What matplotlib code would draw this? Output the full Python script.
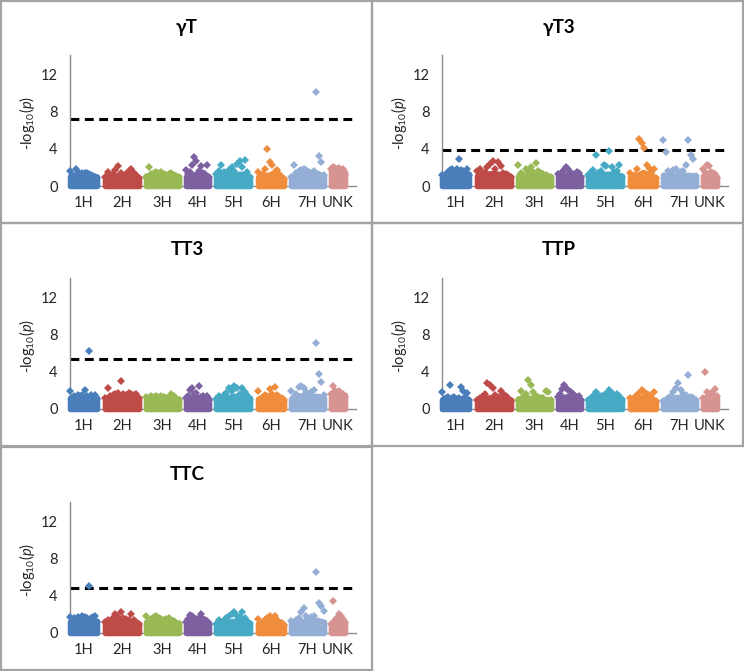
import numpy as np
import matplotlib
matplotlib.use("Agg")
import matplotlib.pyplot as plt
from matplotlib.lines import Line2D

plt.rcParams['font.family'] = ['Lato', 'DejaVu Sans']
plt.rcParams['mathtext.fontset'] = 'custom'
plt.rcParams['mathtext.rm'] = 'Lato'
plt.rcParams['mathtext.it'] = 'Lato:italic'

# ---------------- data ----------------
CHROMS = ['1H', '2H', '3H', '4H', '5H', '6H', '7H', 'UNK']
CHR_START = [0, 35, 76, 116, 146, 188, 221, 261]   # marker index range per chromosome
CHR_END = [27, 69, 109, 139, 180, 214, 254, 275]
COLORS = ['#4a7ebb', '#be4b48', '#98b954', '#7d60a0',
          '#46aac5', '#ef8d3c', '#95aed6', '#d69391']

TITLES = ['γT', 'γT3', 'TT3', 'TTP', 'TTC']
THRESH = [7.15, 3.9, 5.4, None, 4.8]

# visible -log10(p) points per chromosome (evenly spaced along chromosome)
GT_PTS = [
    [1.6, 1.2, 1.1, 1.8, 1.5, 1.3, 1.4, 1.4, 1.35, 1.3, 1.2, 1.1, 1.0, 0.9],
    [1.0, 1.5, 1.2, 1.3, 1.7, 2.1, 1.4, 1.2, 1.3, 1.6, 1.8, 1.4, 1.2, 0.9],
    [1.0, 2.0, 1.3, 1.4, 1.5, 1.4, 1.5, 1.3, 1.2, 1.3, 1.4, 1.2, 1.1, 1.0],
    [1.7, 1.3, 1.5, 2.3, 3.1, 2.7, 1.6, 2.1, 1.4, 1.3, 2.2, 1.0],
    [1.3, 1.6, 2.2, 1.5, 1.4, 1.7, 2.0, 1.6, 2.4, 2.7, 2.0, 2.8, 1.5, 1.0],
    [1.5, 1.1, 1.3, 1.8, 4.0, 2.6, 2.2, 1.5, 1.7, 1.3, 1.0, 0.8],
    [1.0, 2.2, 1.4, 1.6, 1.7, 1.8, 1.7, 1.5, 1.4, 1.6, 10.1, 3.2, 2.6, 1.2],
    [1.8, 2.0, 1.9, 1.8, 1.9, 1.7, 1.8, 1.2],
]
GT_BAND = [
    [1.0, 1.1, 1.2, 1.2, 1.0], [1.0, 1.1, 1.2, 1.1, 0.9], [1.1, 1.2, 1.2, 1.2, 1.0],
    [1.0, 1.2, 1.3, 1.1, 0.9], [1.1, 1.2, 1.3, 1.3, 1.0], [0.9, 1.1, 1.3, 1.0, 0.8],
    [1.0, 1.3, 1.3, 1.3, 1.4, 1.0], [1.6, 1.7, 1.7, 1.5],
]

GT3_PTS = [
    [1.2, 0.9, 1.3, 1.5, 1.7, 1.8, 1.6, 1.8, 2.9, 1.7, 1.6, 1.5, 1.8, 1.2],
    [1.6, 1.8, 1.3, 1.5, 2.0, 2.4, 2.7, 1.8, 2.6, 2.1, 1.4, 1.3, 1.2, 1.0],
    [2.3, 1.4, 1.2, 1.8, 1.6, 2.0, 1.5, 2.5, 1.6, 1.4, 1.3, 1.2, 1.1, 1.0],
    [1.3, 1.1, 1.5, 1.7, 2.0, 1.8, 1.4, 1.3, 1.2, 1.5, 1.4, 1.0],
    [1.2, 1.5, 1.7, 3.3, 1.4, 1.6, 2.3, 2.1, 3.7, 2.0, 1.5, 1.6, 2.2, 1.0],
    [1.4, 1.0, 1.2, 1.8, 5.0, 4.6, 4.1, 2.3, 1.9, 1.4, 1.8, 0.9],
    [4.9, 3.6, 1.6, 1.4, 1.7, 1.8, 1.3, 1.5, 1.6, 2.3, 4.9, 3.3, 2.9, 1.1],
    [1.8, 1.5, 2.3, 2.1, 1.5, 1.4, 1.3, 0.9],
]
GT3_BAND = [
    [1.0, 1.2, 1.4, 1.4, 1.3], [1.1, 1.3, 1.4, 1.2, 1.0], [1.1, 1.2, 1.2, 1.1, 1.0],
    [1.0, 1.2, 1.3, 1.1, 1.0], [1.1, 1.2, 1.3, 1.3, 1.1], [1.0, 1.1, 1.5, 1.2, 0.9],
    [1.2, 1.1, 1.1, 1.2, 1.1], [1.1, 1.4, 1.3, 1.0],
]

TT3_PTS = [
    [1.9, 1.2, 1.4, 1.3, 1.5, 1.4, 1.5, 2.0, 1.4, 6.2, 1.5, 1.3, 1.5, 1.1],
    [1.2, 2.2, 1.4, 1.5, 1.6, 1.7, 3.0, 1.6, 1.5, 1.7, 1.6, 1.5, 1.6, 1.2],
    [1.3, 1.2, 1.4, 1.3, 1.4, 1.3, 1.4, 1.3, 1.2, 1.3, 1.6, 1.4, 1.1, 1.0],
    [1.2, 1.4, 2.0, 2.2, 1.6, 1.7, 2.5, 1.3, 1.4, 1.3, 1.4, 1.0],
    [1.1, 1.4, 1.2, 1.5, 1.7, 2.3, 1.9, 2.5, 2.3, 1.6, 2.2, 1.8, 1.5, 1.0],
    [1.9, 1.1, 1.3, 1.5, 1.4, 2.1, 1.6, 2.4, 1.5, 1.3, 1.2, 1.0],
    [1.9, 1.3, 1.6, 2.4, 2.5, 2.2, 1.8, 1.6, 1.8, 2.0, 7.1, 3.8, 2.9, 1.5],
    [1.6, 2.5, 1.9, 1.8, 1.9, 1.7, 1.6, 1.3],
]
TT3_BAND = [
    [1.2, 1.3, 1.3, 1.3, 1.2], [1.2, 1.4, 1.4, 1.4, 1.2], [1.1, 1.2, 1.2, 1.2, 1.1],
    [1.0, 1.2, 1.3, 1.2, 1.1], [1.0, 1.2, 1.4, 1.4, 1.2], [1.1, 1.2, 1.3, 1.2, 1.0],
    [1.1, 1.4, 1.5, 1.4, 1.4, 1.2], [1.4, 1.7, 1.7, 1.5],
]

TTP_PTS = [
    [1.8, 1.1, 1.2, 1.3, 2.6, 1.2, 1.3, 1.1, 1.2, 2.4, 1.9, 1.3, 1.7, 1.0],
    [1.0, 1.2, 1.3, 1.6, 2.8, 2.6, 2.3, 1.5, 1.3, 1.9, 1.6, 1.4, 1.2, 0.9],
    [1.0, 1.9, 1.3, 1.6, 3.1, 2.6, 1.8, 1.4, 1.3, 1.2, 1.2, 1.9, 1.8, 1.0],
    [1.3, 1.6, 2.1, 2.6, 2.3, 2.0, 1.8, 1.6, 1.4, 1.3, 1.4, 1.0],
    [1.0, 1.2, 1.4, 1.8, 1.5, 1.4, 1.5, 1.6, 2.0, 1.7, 1.5, 1.6, 1.4, 1.0],
    [1.2, 1.1, 1.3, 1.5, 1.7, 2.0, 1.8, 1.6, 1.5, 1.3, 1.8, 0.9],
    [0.9, 1.0, 1.2, 1.4, 1.8, 2.3, 2.8, 2.0, 1.6, 1.5, 3.6, 1.3, 1.2, 1.0],
    [1.2, 4.0, 1.8, 1.5, 1.7, 1.6, 2.1, 1.4],
]
TTP_BAND = [
    [1.0, 1.1, 1.1, 1.1, 1.0], [1.0, 1.2, 1.3, 1.2, 1.0], [1.1, 1.2, 1.2, 1.1, 1.0],
    [1.1, 1.3, 1.4, 1.2, 1.0], [1.0, 1.2, 1.3, 1.3, 1.1], [1.0, 1.1, 1.3, 1.2, 0.9],
    [0.8, 1.0, 1.3, 1.2, 1.0, 0.9], [1.1, 1.4, 1.4, 1.2],
]

TTC_PTS = [
    [1.7, 1.3, 1.6, 1.5, 1.7, 1.6, 1.8, 1.7, 1.6, 5.0, 1.6, 1.7, 1.8, 1.2],
    [1.2, 1.4, 1.3, 1.6, 2.0, 1.7, 2.2, 1.6, 1.5, 1.4, 2.0, 1.4, 1.2, 1.0],
    [1.8, 1.3, 1.5, 1.7, 1.8, 1.6, 1.5, 1.4, 1.5, 1.6, 1.4, 1.3, 1.1, 1.0],
    [1.2, 1.5, 1.9, 1.8, 1.6, 1.5, 1.6, 2.0, 1.5, 1.4, 1.3, 1.0],
    [1.0, 1.4, 1.2, 1.3, 1.6, 1.8, 2.0, 2.3, 1.8, 1.7, 2.2, 1.6, 1.3, 1.0],
    [1.5, 1.0, 1.2, 1.4, 1.6, 1.8, 1.6, 1.8, 1.4, 1.2, 1.1, 0.9],
    [1.3, 1.0, 1.4, 1.6, 2.2, 2.7, 1.8, 1.5, 1.7, 1.8, 6.5, 3.2, 2.9, 2.4],
    [1.0, 3.4, 1.4, 1.6, 2.0, 1.8, 1.5, 1.2],
]
TTC_BAND = [
    [1.2, 1.4, 1.5, 1.4, 1.3], [1.1, 1.3, 1.3, 1.2, 1.0], [1.2, 1.4, 1.3, 1.2, 1.1],
    [1.1, 1.3, 1.3, 1.2, 1.1], [1.0, 1.1, 1.3, 1.3, 1.1], [1.0, 1.1, 1.2, 1.1, 0.9],
    [1.0, 1.2, 1.3, 1.3, 1.4, 1.2], [0.9, 1.2, 1.4, 1.1],
]

PANEL_PTS = [GT_PTS, GT3_PTS, TT3_PTS, TTP_PTS, TTC_PTS]
PANEL_BAND = [GT_BAND, GT3_BAND, TT3_BAND, TTP_BAND, TTC_BAND]
Y_TICKS = [0, 4, 8, 12]

# ---------------- layout ----------------
W, H = 744, 671
fig = plt.figure(figsize=(W / 100, H / 100), dpi=100)
fig.patch.set_facecolor('white')

boxes = [(0, 0), (372, 0), (0, 223), (372, 223), (0, 447)]
BOX_W, BOX_H = 372, 223

def fx(px):
    return px / W

def fy(py):
    return 1 - py / H

border_col = '#a3a3a3'
segs = []
for (bx, by) in boxes:
    x0, x1 = max(bx, 1), min(bx + BOX_W, W - 1)
    y0, y1 = max(by, 1), min(by + BOX_H, H - 1)
    segs += [((x0, x1), (y0, y0)), ((x0, x1), (y1, y1)),
             ((x0, x0), (y0, y1)), ((x1, x1), (y0, y1))]
for xs, ys in segs:
    fig.add_artist(Line2D([fx(xs[0]), fx(xs[1])], [fy(ys[0]), fy(ys[1])],
                          color=border_col, lw=1.6, transform=fig.transFigure))

mids = [(s + e) / 2 for s, e in zip(CHR_START, CHR_END)]

for p, (bx, by) in enumerate(boxes):
    ax = fig.add_axes([fx(bx + 70), fy(by + 186), 286 / W, 130.6 / H])
    ax.set_xlim(0, 286)
    ax.set_ylim(0, 14)
    for c in range(len(CHROMS)):
        pts = PANEL_PTS[p][c]
        band = PANEL_BAND[p][c]
        xb = np.linspace(CHR_START[c], CHR_END[c], len(band))
        ax.fill_between(xb, 0, band, color=COLORS[c], lw=4.0, edgecolor=COLORS[c],
                        joinstyle='round', zorder=3, clip_on=False)
        xp = np.linspace(CHR_START[c], CHR_END[c], len(pts))
        ax.plot(xp, pts, ls='none', marker='D', ms=3.9, mew=0,
                color=COLORS[c], zorder=4, clip_on=False)
    if THRESH[p] is not None:
        ax.axhline(THRESH[p], color='black', lw=2.2, ls=(0, (2.9, 1.8)), zorder=2)
    for s in ['top', 'right']:
        ax.spines[s].set_visible(False)
    for s in ['left', 'bottom']:
        ax.spines[s].set_color('#8a8a8a')
        ax.spines[s].set_linewidth(1.0)
    ax.set_yticks(Y_TICKS)
    ax.set_xticks(mids)
    ax.set_xticklabels(CHROMS)
    ax.tick_params(axis='both', length=0, labelsize=10.5, colors='#262626')
    ax.tick_params(axis='y', pad=9)
    ax.tick_params(axis='x', pad=7)
    ax.patch.set_alpha(0)
    ax.text(-0.152, 0.48, '-log$_{10}$($\\mathit{p}$)', transform=ax.transAxes,
            rotation=90, ha='center', va='center', fontsize=10.5, color='#262626')
    fig.text(fx(bx + 187), fy(by + 27), TITLES[p], ha='center', va='center',
             fontsize=13.5, fontweight='bold', color='black')

fig.savefig('out.png', dpi=100, facecolor='white')
